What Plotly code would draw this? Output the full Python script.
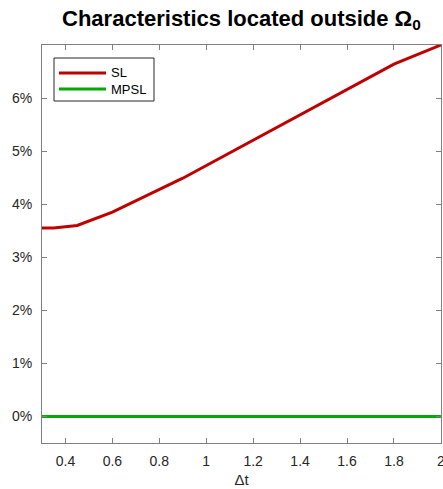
import plotly.graph_objects as go

# Time step sizes and share of characteristics that leave the domain
dt = [0.3, 0.35, 0.45, 0.6, 0.9, 1.8, 2.0]
sl_frac = [0.0355, 0.0355, 0.0360, 0.0385, 0.0449, 0.0664, 0.0700]
mpsl_frac = [0.0, 0.0, 0.0, 0.0, 0.0, 0.0, 0.0]

series_names = ["SL", "MPSL"]
series_colors = ["#BF0000", "#00AA00"]

x_ticks = [0.4, 0.6, 0.8, 1.0, 1.2, 1.4, 1.6, 1.8, 2.0]
x_tick_text = ["0.4", "0.6", "0.8", "1", "1.2", "1.4", "1.6", "1.8", "2"]
y_ticks = [0.0, 0.01, 0.02, 0.03, 0.04, 0.05, 0.06]

font_family = "Liberation Sans, Arial, sans-serif"
axis_col = "#808080"
text_col = "#262626"

W, H = 443, 489
ML, MR, MT, MB = 42, 2, 45, 46
pw, ph = W - ML - MR, H - MT - MB

fig = go.Figure()
for name, ys, col in zip(series_names, [sl_frac, mpsl_frac], series_colors):
    fig.add_trace(go.Scatter(x=dt, y=ys, mode="lines", name=name,
                             line=dict(color=col, width=3), showlegend=False))

axis_common = dict(showline=True, linecolor=axis_col, linewidth=1, mirror="ticks",
                   ticks="inside", ticklen=5, tickcolor=axis_col, showgrid=False,
                   zeroline=False, ticklabeloverflow="allow", automargin=False,
                   tickfont=dict(size=14, color=text_col, family=font_family))

# Boxed legend in the upper-left corner of the axes
def px_x(p):
    return (p - ML) / pw

def px_y(p):
    return 1 - (p - MT) / ph

shapes = [dict(type="rect", xref="paper", yref="paper",
               x0=px_x(54), x1=px_x(154), y0=px_y(101), y1=px_y(58),
               line=dict(color=text_col, width=1), fillcolor="white", layer="above")]
annotations = []
for i, (name, col) in enumerate(zip(series_names, series_colors)):
    yy = 73 + 16 * i
    shapes.append(dict(type="line", xref="paper", yref="paper",
                       x0=px_x(59), x1=px_x(106), y0=px_y(yy), y1=px_y(yy),
                       line=dict(color=col, width=3), layer="above"))
    annotations.append(dict(text=name, xref="paper", yref="paper",
                            x=px_x(109), y=px_y(yy), xanchor="left", yanchor="middle",
                            showarrow=False,
                            font=dict(size=13, color="black", family=font_family)))

fig.update_layout(
    width=W, height=H,
    margin=dict(l=ML, r=MR, t=MT, b=MB),
    paper_bgcolor="white", plot_bgcolor="white",
    title=dict(text="<b>Characteristics located outside Ω<sub>0</sub></b>",
               x=0.545, xanchor="center", y=1 - 18 / H, yanchor="middle",
               font=dict(size=22, color="black", family=font_family)),
    xaxis=dict(range=[0.3, 2.0005], tickvals=x_ticks, ticktext=x_tick_text,
               ticklabelstandoff=5,
               title=dict(text="Δt", standoff=6, font=dict(size=15, color=text_col, family=font_family)),
               **axis_common),
    yaxis=dict(range=[-0.005, 0.07], tickvals=y_ticks, tickformat=".0%",
               ticklabelstandoff=6, **axis_common),
    shapes=shapes,
    annotations=annotations,
    showlegend=False,
)

fig.write_html("out.html")
